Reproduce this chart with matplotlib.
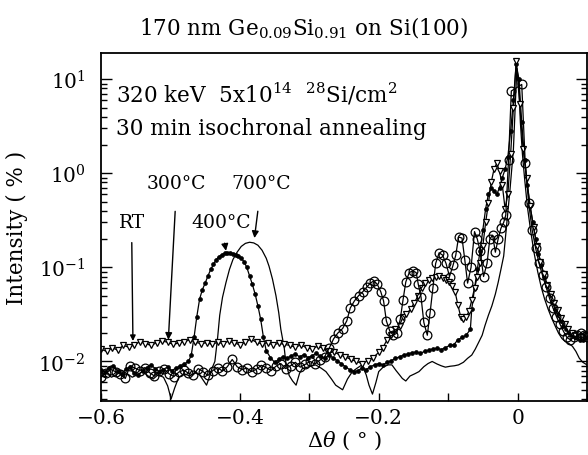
import numpy as np
import matplotlib
matplotlib.use("Agg")
import matplotlib.pyplot as plt
from matplotlib.ticker import LogLocator, FixedLocator, FixedFormatter, NullFormatter

plt.rcParams['font.family'] = ['DejaVu Serif']
plt.rcParams['mathtext.fontset'] = 'dejavuserif'

# open circles
circ_x = [-0.600, -0.593, -0.586, -0.579, -0.572, -0.565, -0.558, -0.551, -0.544, -0.537,
          -0.530, -0.523, -0.516, -0.509, -0.502, -0.495, -0.488, -0.481, -0.474, -0.467,
          -0.460, -0.453, -0.446, -0.439, -0.432, -0.425, -0.418, -0.411, -0.404, -0.397,
          -0.390, -0.383, -0.376, -0.369, -0.362, -0.355, -0.348, -0.341, -0.334, -0.327,
          -0.320, -0.313, -0.306, -0.299, -0.292, -0.285, -0.278, -0.271,
          -0.265, -0.259, -0.252, -0.246, -0.241, -0.235, -0.229, -0.223, -0.217, -0.212,
          -0.207, -0.202, -0.197, -0.193, -0.189, -0.184, -0.179, -0.174, -0.169, -0.165,
          -0.161, -0.156, -0.151, -0.146, -0.143, -0.139, -0.135, -0.130, -0.126, -0.122,
          -0.118, -0.113, -0.108, -0.103, -0.098, -0.093, -0.089, -0.085, -0.080, -0.076,
          -0.072, -0.067, -0.062, -0.058, -0.054, -0.049, -0.044, -0.040, -0.036, -0.032,
          -0.028, -0.024, -0.020, -0.017, -0.013, -0.009, 0.006, 0.011, 0.016, 0.021,
          0.026, 0.031, 0.036, 0.041, 0.046, 0.051, 0.056, 0.061, 0.066, 0.071,
          0.076, 0.081, 0.086, 0.091, 0.096, 0.100]
circ_y = [0.0068, 0.0075, 0.0082, 0.0078, 0.0073, 0.0066, 0.0090, 0.0085, 0.0080, 0.0086,
          0.0076, 0.0070, 0.0079, 0.0083, 0.0074, 0.0069, 0.0077, 0.0081, 0.0075, 0.0072,
          0.0084, 0.0078, 0.0071, 0.0080, 0.0086, 0.0079, 0.0088, 0.0105, 0.0088, 0.0082,
          0.0085, 0.0078, 0.0083, 0.0091, 0.0086, 0.0080, 0.0089, 0.0095, 0.0084, 0.0090,
          0.0098, 0.0087, 0.0093, 0.0100, 0.0094, 0.0103, 0.0112, 0.0140,
          0.0174, 0.020, 0.0224, 0.027, 0.037, 0.044, 0.050, 0.055, 0.062, 0.068,
          0.072, 0.066, 0.055, 0.044, 0.027, 0.021, 0.019, 0.020, 0.028, 0.045,
          0.070, 0.088, 0.092, 0.088, 0.066, 0.048, 0.026, 0.019, 0.033, 0.060,
          0.110, 0.143, 0.135, 0.110, 0.080, 0.105, 0.135, 0.210, 0.205, 0.120,
          0.068, 0.100, 0.240, 0.200, 0.150, 0.080, 0.110, 0.200, 0.220, 0.145,
          0.200, 0.260, 0.300, 0.360, 1.40, 7.5, 8.8, 1.3, 0.48, 0.25,
          0.16, 0.11, 0.082, 0.062, 0.047, 0.037, 0.030, 0.025, 0.021, 0.018,
          0.017, 0.018, 0.019, 0.020, 0.019, 0.018]

# open down-triangles
tri_x = [-0.600, -0.592, -0.584, -0.576, -0.568, -0.560, -0.552, -0.544, -0.536, -0.528,
         -0.520, -0.512, -0.504, -0.496, -0.488, -0.480, -0.472, -0.464, -0.456, -0.448,
         -0.440, -0.432, -0.424, -0.416, -0.408, -0.400, -0.392, -0.384, -0.376, -0.368,
         -0.360, -0.352, -0.344, -0.336, -0.328, -0.320, -0.312, -0.304, -0.296, -0.288,
         -0.280, -0.272, -0.264, -0.256, -0.248, -0.240, -0.232, -0.224, -0.216, -0.208,
         -0.200, -0.194, -0.188, -0.182, -0.176, -0.170, -0.165, -0.160, -0.154, -0.149,
         -0.143, -0.138, -0.133, -0.128, -0.123, -0.118, -0.113, -0.108, -0.103, -0.099,
         -0.095, -0.090, -0.086, -0.082, -0.078, -0.074, -0.070, -0.066, -0.062, -0.058,
         -0.054, -0.050, -0.046, -0.042, -0.038, -0.034, -0.030, -0.026, -0.022, -0.018,
         -0.014, -0.010, -0.006, -0.002, 0.003, 0.008, 0.013, 0.018, 0.023, 0.028,
         0.033, 0.038, 0.043, 0.048, 0.053, 0.058, 0.063, 0.068, 0.073, 0.078,
         0.083, 0.088, 0.093, 0.098]
tri_y = [0.0135, 0.0128, 0.0140, 0.0132, 0.0148, 0.0142, 0.0150, 0.0162, 0.0155, 0.0148,
         0.0158, 0.0165, 0.0160, 0.0152, 0.0157, 0.0163, 0.0170, 0.0160, 0.0155, 0.0158,
         0.0152, 0.0160, 0.0155, 0.0165, 0.0158, 0.0150, 0.0162, 0.0172, 0.0160, 0.0154,
         0.0158, 0.0150, 0.0156, 0.0152, 0.0148, 0.0142, 0.0150, 0.0140, 0.0136, 0.0145,
         0.0138, 0.0130, 0.0125, 0.0118, 0.0112, 0.0105, 0.0100, 0.0095, 0.0102, 0.0110,
         0.0125, 0.014, 0.017, 0.019, 0.022, 0.024, 0.030, 0.032, 0.036, 0.042,
         0.050, 0.060, 0.068, 0.074, 0.078, 0.080, 0.081, 0.078, 0.074, 0.070,
         0.064, 0.055, 0.040, 0.030, 0.028, 0.030, 0.034, 0.045, 0.060, 0.080,
         0.110, 0.170, 0.300, 0.480, 0.800, 1.10, 1.28, 1.05, 0.75, 0.42,
         0.60, 1.60, 5.0, 15.5, 5.5, 1.8, 0.9, 0.45, 0.27, 0.17,
         0.115, 0.085, 0.065, 0.052, 0.042, 0.035, 0.029, 0.025, 0.022, 0.020,
         0.019, 0.018, 0.018, 0.019]

# small filled dots (400 C)
dot_x = [-0.600, -0.594, -0.588, -0.582, -0.576, -0.570, -0.564, -0.558, -0.552, -0.546,
         -0.540, -0.534, -0.528, -0.522, -0.516, -0.510, -0.504, -0.498, -0.492, -0.486,
         -0.480, -0.474,
         -0.470, -0.466, -0.462, -0.458, -0.454, -0.450, -0.446, -0.442, -0.438, -0.434,
         -0.430, -0.426, -0.422, -0.418, -0.414, -0.410, -0.406, -0.402, -0.398, -0.394,
         -0.390, -0.386, -0.382, -0.378, -0.374, -0.370, -0.366, -0.362,
         -0.356, -0.350, -0.344, -0.338, -0.332, -0.326, -0.320, -0.314, -0.308, -0.302,
         -0.296, -0.290, -0.284, -0.278, -0.272, -0.266, -0.260, -0.254, -0.248, -0.242,
         -0.236, -0.230, -0.224, -0.218, -0.212, -0.206, -0.200, -0.194, -0.188, -0.182,
         -0.176, -0.170, -0.164, -0.158, -0.152, -0.146, -0.140, -0.134, -0.128, -0.122,
         -0.116, -0.110, -0.104, -0.098, -0.092, -0.086, -0.080, -0.074,
         -0.068, -0.066, -0.062, -0.058, -0.054, -0.050, -0.046, -0.042, -0.038, -0.034,
         -0.030, -0.026, -0.022, -0.018, -0.014, -0.010, -0.006, -0.002, 0.002, 0.006,
         0.010, 0.014, 0.018, 0.022, 0.026, 0.030, 0.034, 0.038, 0.042, 0.046,
         0.050, 0.054, 0.058, 0.062, 0.066, 0.070, 0.074, 0.078, 0.082, 0.086,
         0.090, 0.094, 0.098]
dot_y = [0.0082, 0.0078, 0.0085, 0.0090, 0.0080, 0.0074, 0.0083, 0.0088, 0.0076, 0.0072,
         0.0080, 0.0086, 0.0092, 0.0084, 0.0078, 0.0082, 0.0088, 0.0080, 0.0085, 0.0090,
         0.0094, 0.0100,
         0.0117, 0.018, 0.030, 0.046, 0.058, 0.068, 0.081, 0.095, 0.108, 0.121,
         0.130, 0.137, 0.141, 0.143, 0.142, 0.140, 0.137, 0.133, 0.125, 0.115,
         0.100, 0.081, 0.066, 0.052, 0.039, 0.028, 0.018, 0.013,
         0.0110, 0.0098, 0.0105, 0.0112, 0.0108, 0.0115, 0.0120, 0.0112, 0.0118, 0.0110,
         0.0115, 0.0122, 0.0113, 0.0108, 0.0116, 0.0110, 0.0102, 0.0095, 0.0088, 0.0082,
         0.0078, 0.0080, 0.0085, 0.0082, 0.0088, 0.0092, 0.0095, 0.0092, 0.0098, 0.0102,
         0.0108, 0.0112, 0.0117, 0.0120, 0.0124, 0.0126, 0.0122, 0.0128, 0.0132, 0.0136,
         0.0138, 0.0134, 0.0140, 0.0148, 0.0150, 0.0170, 0.0180, 0.0190,
         0.022, 0.036, 0.060, 0.095, 0.15, 0.25, 0.42, 0.60, 0.70, 0.65,
         0.60, 0.70, 0.90, 1.10, 1.5, 2.8, 6.0, 14.5, 10.0, 3.5,
         1.4, 0.75, 0.45, 0.30, 0.20, 0.14, 0.105, 0.080, 0.064, 0.052,
         0.043, 0.036, 0.031, 0.027, 0.024, 0.022, 0.020, 0.019, 0.018, 0.018,
         0.017, 0.017, 0.018]

# solid line (700 C)
line_x = [-0.600, -0.592, -0.585, -0.578, -0.570, -0.562, -0.555, -0.548, -0.540, -0.532,
          -0.525, -0.518, -0.510, -0.504, -0.499, -0.494, -0.488, -0.480, -0.472, -0.465,
          -0.458, -0.452, -0.448, -0.444, -0.440, -0.436, -0.432, -0.429, -0.425, -0.420,
          -0.415, -0.410, -0.404, -0.398, -0.392, -0.386, -0.380, -0.374, -0.368, -0.362,
          -0.358, -0.353, -0.348, -0.344, -0.341, -0.336, -0.334, -0.329, -0.324, -0.319,
          -0.314, -0.310, -0.300, -0.291, -0.283, -0.276, -0.268, -0.262, -0.252, -0.245,
          -0.238, -0.231, -0.224, -0.218, -0.214, -0.209, -0.204, -0.200, -0.193, -0.186,
          -0.181, -0.175, -0.170, -0.166, -0.161, -0.155, -0.148, -0.142, -0.135, -0.129,
          -0.123, -0.116, -0.110, -0.104, -0.097, -0.091, -0.085, -0.078, -0.072, -0.066,
          -0.061, -0.056, -0.051, -0.047, -0.042, -0.037, -0.032, -0.028, -0.024, -0.020,
          -0.016, -0.011, -0.006, -0.003, -0.001, 0.002, 0.004, 0.007, 0.010, 0.014,
          0.019, 0.024, 0.029, 0.034, 0.039, 0.044, 0.049, 0.054, 0.059, 0.064,
          0.069, 0.074, 0.079, 0.084, 0.089, 0.094, 0.100]
line_y = [0.0070, 0.0075, 0.0068, 0.0072, 0.0080, 0.0074, 0.0068, 0.0072, 0.0078, 0.0070,
          0.0065, 0.0072, 0.0068, 0.0055, 0.0040, 0.0052, 0.0068, 0.0074, 0.0070, 0.0076,
          0.0072, 0.0062, 0.0056, 0.0068, 0.0085, 0.0100, 0.018, 0.031, 0.048, 0.069,
          0.095, 0.121, 0.145, 0.167, 0.180, 0.185, 0.182, 0.172, 0.152, 0.125,
          0.103, 0.075, 0.050, 0.033, 0.022, 0.0138, 0.0100, 0.0071, 0.0062, 0.0056,
          0.0075, 0.0084, 0.0088, 0.0092, 0.0085, 0.0078, 0.0065, 0.0056, 0.0050, 0.0065,
          0.0078, 0.0085, 0.0092, 0.0072, 0.0056, 0.0045, 0.0060, 0.0078, 0.0088, 0.0092,
          0.0092, 0.0080, 0.0072, 0.0066, 0.0062, 0.0070, 0.0074, 0.0078, 0.0088, 0.0095,
          0.0100, 0.0094, 0.0090, 0.0087, 0.0089, 0.0090, 0.0092, 0.0098, 0.0108, 0.0117,
          0.0135, 0.016, 0.019, 0.024, 0.031, 0.039, 0.052, 0.069, 0.095, 0.132,
          0.27, 0.66, 1.8, 6.0, 13.0, 9.0, 3.5, 1.6, 0.9, 0.45,
          0.24, 0.14, 0.090, 0.062, 0.046, 0.036, 0.029, 0.024, 0.020, 0.0175,
          0.0162, 0.0155, 0.0145, 0.0128, 0.0108, 0.0098, 0.0092]

x_ticks = [-0.6, -0.4, -0.2, 0.0]
x_tick_labels = ['\u22120.6', '\u22120.4', '\u22120.2', '0']
x_minor = [-0.5, -0.3, -0.1, 0.1]

fig = plt.figure(figsize=(5.88, 4.56), dpi=100)
ax = fig.add_axes([101 / 588, 54 / 456, 486 / 588, 348 / 456])

ax.plot(line_x, line_y, color='black', lw=0.9)
ax.plot(dot_x, dot_y, color='black', lw=0.9, marker='o', ms=2.8, mfc='black', mew=0.5)
ax.plot(tri_x, tri_y, color='black', lw=0.9, marker='v', ms=5, mfc='white', mew=0.9)
ax.plot(circ_x, circ_y, color='black', lw=0.9, marker='o', ms=6.3, mfc='none', mew=0.9)

ax.set_yscale('log')
ax.set_xlim(-0.6, 0.1)
ax.set_ylim(0.0038, 19)

ax.xaxis.set_major_locator(FixedLocator(x_ticks))
ax.xaxis.set_major_formatter(FixedFormatter(x_tick_labels))
ax.xaxis.set_minor_locator(FixedLocator(x_minor))
ax.yaxis.set_major_locator(LogLocator(base=10, numticks=10))
ax.yaxis.set_minor_locator(LogLocator(base=10, subs=np.arange(2, 10), numticks=20))
ax.yaxis.set_minor_formatter(NullFormatter())

ax.tick_params(axis='both', which='both', direction='in', top=False, right=True,
               labelsize=14.5, width=1)
ax.tick_params(axis='y', which='major', length=8, pad=11)
ax.tick_params(axis='y', which='minor', length=4)
ax.tick_params(axis='x', which='both', length=6, pad=5)
for s in ax.spines.values():
    s.set_linewidth(1.3)

ax.set_xlabel('$\\Delta\\theta$ ( \u00b0 )', fontsize=15, labelpad=1)
ax.set_ylabel('Intensity ( % )', fontsize=15.5)
ax.yaxis.set_label_coords(-0.15, 0.5)

fig.text(304 / 588, 1 - 28 / 456, '170 nm Ge$_{0.09}$Si$_{0.91}$ on Si(100)',
         ha='center', va='center', fontsize=15.5)
ax.text(0.03, 0.885, '320 keV  5x10$^{14}$  $^{28}$Si/cm$^{2}$', transform=ax.transAxes,
        ha='left', va='center', fontsize=15.5)
ax.text(0.03, 0.785, '30 min isochronal annealing', transform=ax.transAxes,
        ha='left', va='center', fontsize=15.5)

# temperature markers
ax.annotate('RT', xy=(-0.554, 0.0165), xytext=(-0.556, 0.30), ha='center', va='center',
            fontsize=13.5, arrowprops=dict(arrowstyle='-|>', color='black', lw=1,
                                           mutation_scale=8, shrinkA=6, shrinkB=0))
ax.annotate('300\u00b0C', xy=(-0.503, 0.0170), xytext=(-0.491, 0.79), ha='center', va='center',
            fontsize=13.5, arrowprops=dict(arrowstyle='-|>', color='black', lw=1,
                                           mutation_scale=10, shrinkA=12, shrinkB=0))
ax.annotate('400\u00b0C', xy=(-0.420, 0.150), xytext=(-0.427, 0.305), ha='center', va='center',
            fontsize=13.5, arrowprops=dict(arrowstyle='-|>', color='black', lw=1,
                                           mutation_scale=10, shrinkA=7, shrinkB=0))
ax.annotate('700\u00b0C', xy=(-0.379, 0.205), xytext=(-0.369, 0.79), ha='center', va='center',
            fontsize=13.5, arrowprops=dict(arrowstyle='-|>', color='black', lw=1,
                                           mutation_scale=10, shrinkA=12, shrinkB=0))

fig.savefig('out.png', dpi=100)
